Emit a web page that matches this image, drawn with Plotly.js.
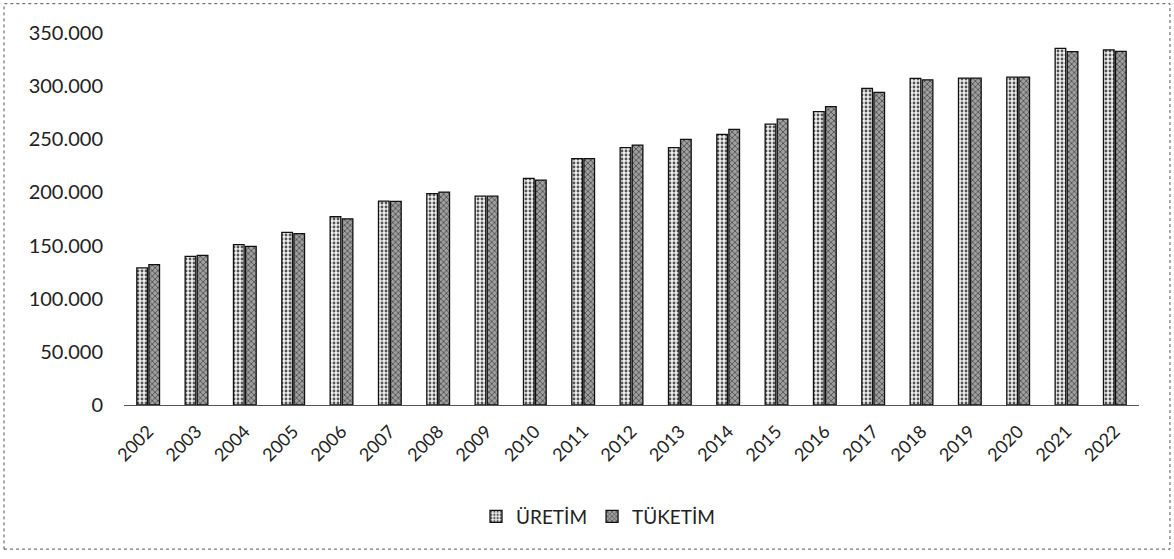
<!DOCTYPE html>
<html>
<head>
<meta charset="utf-8">
<script src="https://cdn.plot.ly/plotly-3.0.1.min.js"></script>
<style>html,body{margin:0;padding:0;background:#fff;}#chart{width:1174px;height:559px;}</style>
</head>
<body>
<div id="chart"></div>
<script>
const years = ['2002','2003','2004','2005','2006','2007','2008','2009','2010','2011','2012','2013','2014','2015','2016','2017','2018','2019','2020','2021','2022'];
const uretim = [129000,139900,150900,162500,177100,191800,198800,196500,213200,231800,242200,242200,254700,264200,276100,297800,307300,307500,308500,335600,334200];
const tuketim = [132100,140800,149300,161300,175200,191500,200300,196500,211600,231800,244600,250000,259400,268900,280800,294100,305900,307500,308500,332400,332700];
const yTicks = [0,50000,100000,150000,200000,250000,300000,350000];
const yTickText = ['0','50.000','100.000','150.000','200.000','250.000','300.000','350.000'];

const traces = [
  {type:'bar', name:'ÜRETİM', x:years, y:uretim,
   marker:{color:'#ffffff', line:{color:'#111', width:1.3},
           pattern:{shape:'.', fgcolor:'#555', bgcolor:'#f0f0f0', size:4, solidity:0.4}}},
  {type:'bar', name:'TÜKETİM', x:years, y:tuketim,
   marker:{color:'#8c8c8c', line:{color:'#111', width:1.3},
           pattern:{shape:'x', fgcolor:'#333', bgcolor:'#a0a0a0', size:4, solidity:0.3}}}
];

const layout = {
  width:1174, height:559,
  margin:{l:124, r:35, t:33, b:154},
  paper_bgcolor:'#fff', plot_bgcolor:'#fff',
  font:{family:'Lato, "Open Sans", sans-serif', color:'#222', size:16},
  barmode:'group', bargap:0.5, bargroupgap:0.12,
  showlegend:true,
  legend:{orientation:'h', x:0.467, xanchor:'center', y:-0.30, yanchor:'middle',
          font:{size:19, color:'#222'}},
  xaxis:{type:'category', tickangle:-45, showgrid:false, zeroline:false,
         showline:true, linecolor:'#555', linewidth:1, ticks:'',
         ticklabelstandoff:8,
         tickfont:{size:18, color:'#222'}},
  yaxis:{range:[0,350000], tickvals:yTicks, ticktext:yTickText, showgrid:false,
         zeroline:false, showline:false, ticks:'', ticklen:0,
         ticklabelstandoff:20,
         tickfont:{size:20, color:'#222'}},
  shapes:[{type:'rect', xref:'paper', yref:'paper', x0:-0.1182, x1:1.0305, y0:-0.3874, y1:1.0788,
           line:{color:'#555', width:1, dash:'dot'}, fillcolor:'rgba(0,0,0,0)'}]
};
Plotly.newPlot('chart', traces, layout, {displayModeBar:false, staticPlot:true});
</script>
</body>
</html>
